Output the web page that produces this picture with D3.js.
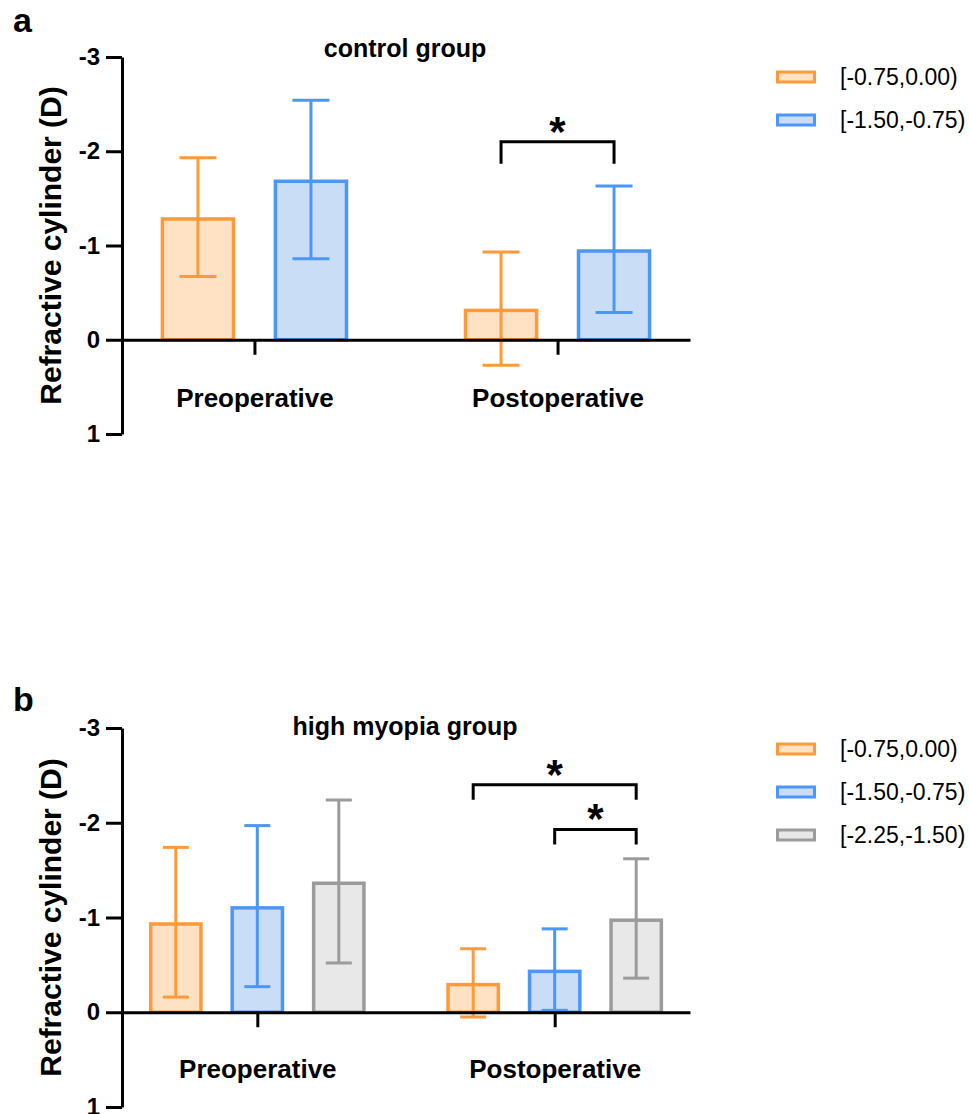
<!DOCTYPE html>
<html><head><meta charset="utf-8">
<script src="https://cdn.jsdelivr.net/npm/d3@7"></script>
<style>body{margin:0;background:#fff} svg{display:block} text{font-family:"Liberation Sans",Arial,sans-serif}</style>
</head><body><svg id="c" width="969" height="1114"></svg>
<script>
// ---------- data ----------
const categories = ["Preoperative", "Postoperative"];
const yTicks = [-3, -2, -1, 0, 1];
const yTickLabels = ["-3", "-2", "-1", "0", "1"];
const yLabel = "Refractive cylinder (D)";

const controlTitle = "control group";
const controlSeries = ["[-0.75,0.00)", "[-1.50,-0.75)"];
const controlMeanPre = [-1.30, -1.70];
const controlSDPre = [0.63, 0.84];
const controlMeanPost = [-0.33, -0.96];
const controlSDPost = [0.60, 0.67];
const controlSig = [{cat: "Postoperative", a: 0, b: 1, level: -2.1, label: "*"}];

const highTitle = "high myopia group";
const highSeries = ["[-0.75,0.00)", "[-1.50,-0.75)", "[-2.25,-1.50)"];
const highMeanPre = [-0.95, -1.12, -1.38];
const highSDPre = [0.79, 0.85, 0.86];
const highMeanPost = [-0.31, -0.45, -0.99];
const highSDPost = [0.36, 0.43, 0.63];
const highSig = [
  {cat: "Postoperative", a: 0, b: 2, level: -2.4, label: "*"},
  {cat: "Postoperative", a: 1, b: 2, level: -1.93, label: "*"}
];

const strokeColors = ["#FF9A3A", "#4C97F5", "#9B9B9E"];
const fillColors = ["#FFE1C3", "#C9DDF7", "#E8E8E8"];

// ---------- drawing ----------
const svg = d3.select("#c");

function panel(cfg) {
  const g = svg.append("g");
  const y = d3.scaleLinear().domain([-3, 1]).range(cfg.yRange);
  const x = d3.scalePoint().domain(categories).range([122, 690]).padding(cfg.xPad);
  const n = cfg.series.length;
  const sub = d3.scaleBand().domain(d3.range(n))
    .range([-n * cfg.step / 2, n * cfg.step / 2]).paddingInner(0.34).paddingOuter(0.17);
  const bw = sub.bandwidth();

  const rows = [];
  categories.forEach((c, ci) => {
    cfg.means[ci].forEach((m, si) => rows.push({cat: c, s: si, m: m, sd: cfg.sds[ci][si]}));
  });
  const cx = d => x(d.cat) + sub(d.s) + bw / 2;
  const sw = 3.5;

  // bars
  g.selectAll("rect.bar").data(rows).join("rect").attr("class", "bar")
    .attr("x", d => cx(d) - bw / 2 + sw / 2)
    .attr("width", bw - sw)
    .attr("y", d => y(d.m) + sw / 2)
    .attr("height", d => y(0) - y(d.m) - sw / 2)
    .attr("fill", d => fillColors[d.s])
    .attr("stroke", d => strokeColors[d.s])
    .attr("stroke-width", sw);

  // error bars
  const eb = g.selectAll("g.eb").data(rows).join("g").attr("class", "eb")
    .attr("stroke", d => strokeColors[d.s]).attr("stroke-width", 3);
  eb.append("line").attr("x1", cx).attr("x2", cx)
    .attr("y1", d => y(d.m - d.sd)).attr("y2", d => y(d.m + d.sd));
  eb.append("line").attr("x1", d => cx(d) - cfg.cap / 2).attr("x2", d => cx(d) + cfg.cap / 2)
    .attr("y1", d => y(d.m - d.sd)).attr("y2", d => y(d.m - d.sd));
  eb.append("line").attr("x1", d => cx(d) - cfg.cap / 2).attr("x2", d => cx(d) + cfg.cap / 2)
    .attr("y1", d => y(d.m + d.sd)).attr("y2", d => y(d.m + d.sd));

  // y axis
  const ya = g.append("g").attr("transform", "translate(122,0)")
    .call(d3.axisLeft(y).tickValues(yTicks).tickFormat((d, i) => yTickLabels[i])
      .tickSize(16).tickSizeOuter(0).tickPadding(6));
  ya.selectAll("path,line").attr("stroke", "#000").attr("stroke-width", 3);
  ya.selectAll("text").attr("font-size", 24).attr("font-weight", "bold").attr("fill", "#000")
    .attr("font-family", "Liberation Sans, Arial, sans-serif");

  // x axis
  const xa = g.append("g").attr("transform", `translate(0,${y(0)})`)
    .call(d3.axisBottom(x).tickSize(15).tickSizeOuter(0).tickPadding(cfg.xLabPad));
  xa.selectAll("path,line").attr("stroke", "#000").attr("stroke-width", 3);
  xa.selectAll("text").attr("font-size", 26).attr("font-weight", "bold").attr("fill", "#000")
    .attr("font-family", "Liberation Sans, Arial, sans-serif");

  // y label
  const ymid = (cfg.yRange[0] + cfg.yRange[1]) / 2;
  g.append("text").attr("transform", `translate(61,${ymid}) rotate(-90)`)
    .attr("text-anchor", "middle").attr("font-size", 30).attr("font-weight", "bold")
    .text(yLabel);

  // title
  g.append("text").attr("x", 405).attr("y", cfg.titleY).attr("text-anchor", "middle")
    .attr("font-size", 25).attr("font-weight", "bold").text(cfg.title);

  // panel letter
  g.append("text").attr("x", 13).attr("y", cfg.letterY).attr("font-size", 34)
    .attr("font-weight", "bold").text(cfg.letter);

  // significance brackets
  cfg.sig.forEach(s => {
    const x1 = x(s.cat) + sub(s.a) + bw / 2, x2 = x(s.cat) + sub(s.b) + bw / 2;
    const yy = y(s.level);
    g.append("path").attr("d", `M${x1},${yy + cfg.drop}V${yy}H${x2}V${yy + cfg.drop}`)
      .attr("fill", "none").attr("stroke", "#000").attr("stroke-width", 3);
    g.append("text").attr("x", (x1 + x2) / 2).attr("y", yy + 4).attr("text-anchor", "middle")
      .attr("font-size", 42).attr("font-weight", "bold").text(s.label);
  });

  // legend
  cfg.series.forEach((s, i) => {
    const cy = cfg.legY0 + i * 43;
    g.append("rect").attr("x", 777.5).attr("y", cy - 5).attr("width", 37).attr("height", 10)
      .attr("fill", fillColors[i]).attr("stroke", strokeColors[i]).attr("stroke-width", 3);
    g.append("text").attr("x", 840).attr("y", cy).attr("dominant-baseline", "central")
      .attr("font-size", 23).text(s);
  });
}

panel({
  yRange: [57, 434], xPad: 0.437, step: 113, cap: 37, xLabPad: 34,
  series: controlSeries,
  means: [controlMeanPre, controlMeanPost], sds: [controlSDPre, controlSDPost],
  sig: controlSig, drop: 22,
  title: controlTitle, titleY: 57, letter: "a", letterY: 32, legY0: 77
});
panel({
  yRange: [728, 1107], xPad: 0.455, step: 81.5, cap: 26, xLabPad: 32,
  series: highSeries,
  means: [highMeanPre, highMeanPost], sds: [highSDPre, highSDPost],
  sig: highSig, drop: 15,
  title: highTitle, titleY: 735, letter: "b", letterY: 711, legY0: 749
});
</script>
</body></html>
